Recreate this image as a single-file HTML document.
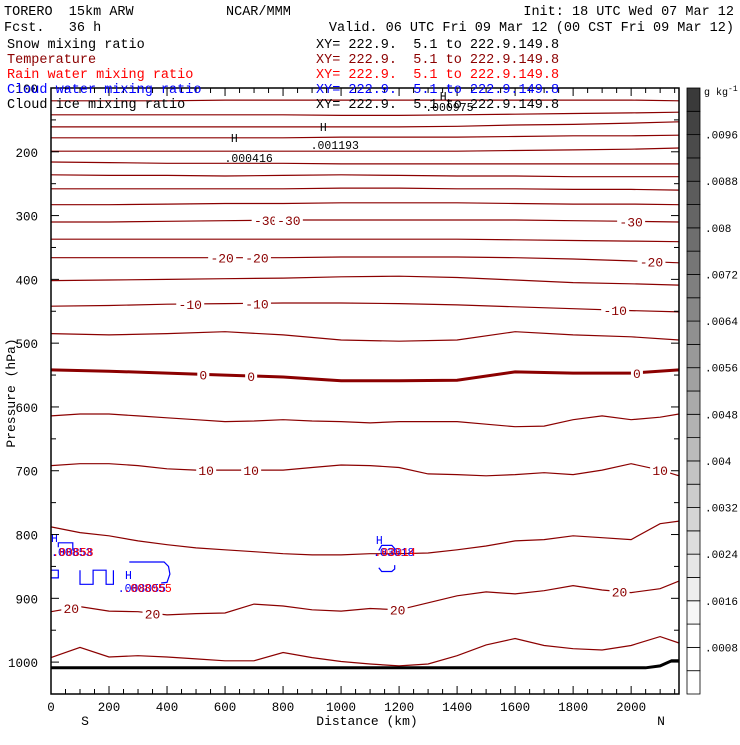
<!DOCTYPE html>
<html><head><meta charset="utf-8"><style>
body{margin:0;background:#fff;}
svg text{font-family:"Liberation Mono",monospace;white-space:pre;}
</style></head><body>
<svg id="c" width="740" height="740" xmlns="http://www.w3.org/2000/svg" xml:space="preserve">
<rect width="740" height="740" fill="#fff"/>
<g id="plot"></g>
<g id="hdr" font-size="13.5">
<text x="4" y="15" fill="#000">TORERO  15km ARW</text>
<text x="226" y="15">NCAR/MMM</text>
<text x="734" y="15" text-anchor="end">Init: 18 UTC Wed 07 Mar 12</text>
<text x="4" y="31">Fcst.   36 h</text>
<text x="734" y="31" text-anchor="end">Valid. 06 UTC Fri 09 Mar 12 (00 CST Fri 09 Mar 12)</text>
<text x="7" y="48" fill="#000">Snow mixing ratio</text>
<text x="316" y="48" fill="#000">XY= 222.9.  5.1 to 222.9.149.8</text>
<text x="7" y="63" fill="#8b0000">Temperature</text>
<text x="316" y="63" fill="#8b0000">XY= 222.9.  5.1 to 222.9.149.8</text>
<text x="7" y="78" fill="#ff0000">Rain water mixing ratio</text>
<text x="316" y="78" fill="#ff0000">XY= 222.9.  5.1 to 222.9.149.8</text>
<text x="7" y="93" fill="#0000ff">Cloud water mixing ratio</text>
<text x="316" y="93" fill="#0000ff">XY= 222.9.  5.1 to 222.9.149.8</text>
<text x="7" y="108" fill="#000">Cloud ice mixing ratio</text>
<text x="316" y="108" fill="#000">XY= 222.9.  5.1 to 222.9.149.8</text>
</g>
</svg>
<script>
const distCoarse=[0,200,400,600,800,1000,1200,1400,1600,1800,2000,2165];
const distFine=[0,100,200,300,400,500,600,700,800,900,1000,1100,1200,1300,1400,1500,1600,1700,1800,1900,2000,2100,2165];
const upperLevels=[-75,-70,-65,-60,-55,-50,-45,-40,-35,-30,-25,-20,-15,-10,-5,0];
const upperP=[
[120,120,120,119,119,119,119,119,119,119,119,120],
[142,142,142,142,142,143,143,142,141,140,139,138],
[161,161,161,161,161,161,161,160,158,157,155,153],
[178,178,178,178,178,177,177,177,176,175,175,174],
[199,199,199,199,199,199,199,199,198,197,196,194],
[216,217,218,218,218,219,219,219,219,219,219,219],
[236,237,237,238,237,236,237,238,238,239,239,239],
[258,258,258,258,258,257,257,258,258,259,259,260],
[283,283,282,281,281,280,280,280,281,282,282,283],
[310,310,309,308,307,307,307,307,307,308,309,310],
[337,337,337,337,337,337,337,337,338,339,340,341],
[366,366,366,366,366,365,365,365,366,368,371,374],
[402,401,400,399,398,396,395,397,401,405,407,409],
[442,441,439,438,437,437,438,440,443,446,449,451],
[485,487,485,482,487,495,497,495,482,487,490,495],
[542,544,547,550,553,559,559,558,545,547,547,542]];
const lowerLevels=[5,10,15,20,25];
const lowerP=[
[614,611,611,614,617,620,623,622,620,622,623,625,623,623,623,627,631,630,620,614,620,616,611],
[692,689,689,692,697,699,699,699,699,695,691,692,695,705,706,708,706,703,706,699,689,699,708],
[788,797,802,810,816,821,824,827,830,832,832,830,830,829,824,818,810,808,802,805,808,783,779],
[921,913,920,921,926,924,923,909,912,918,920,916,918,907,896,890,893,888,880,887,891,885,873],
[993,977,992,990,992,995,998,998,985,993,999,1003,1006,1003,990,973,963,974,979,981,974,960,970]];
const terrainDist=[0,2050,2100,2140,2165];
const terrainP=[1009,1009,1006,998,998];
const tempLabels=[[-30,740],[-30,820],[-30,2000],[-20,590],[-20,710],[-20,2070],[-10,480],[-10,710],[-10,1945],[0,525],[0,690],[0,2020],[10,535],[10,690],[10,2100],[20,70],[20,350],[20,1195],[20,1960]];
const colorTicks=[".0008",".0016",".0024",".0032",".004",".0048",".0056",".0064",".0072",".008",".0088",".0096"];
const xTickLabels=[0,200,400,600,800,1000,1200,1400,1600,1800,2000];
const yTickLabels=[100,200,300,400,500,600,700,800,900,1000];

const X0=51,X1=679,Y0=88,Y1=694,DMAX=2165,PTOP=100,PBOT=1050;
const sx=d=>X0+(d/DMAX)*(X1-X0);
const sy=p=>Y0+(p-PTOP)/(PBOT-PTOP)*(Y1-Y0);
const NS="http://www.w3.org/2000/svg";
const plot=document.getElementById('plot');
function mk(t,a,parent){const e=document.createElementNS(NS,t);for(const k in a)e.setAttribute(k,a[k]);(parent||plot).appendChild(e);return e;}
function interp(ds,ps,d){for(let i=0;i<ds.length-1;i++){if(d>=ds[i]&&d<=ds[i+1]){const t=(d-ds[i])/(ds[i+1]-ds[i]);return ps[i]+t*(ps[i+1]-ps[i]);}}return ps[ps.length-1];}
function pts(ds,ps){return ds.map((d,i)=>sx(d).toFixed(1)+','+sy(ps[i]).toFixed(1)).join(' ');}

mk('rect',{x:X0,y:Y0,width:X1-X0,height:Y1-Y0,fill:'#fff'});
upperLevels.forEach((lv,i)=>{
 const l=mk('polyline',{points:pts(distCoarse,upperP[i]),fill:'none',stroke:'#8b0000','stroke-width':lv===0?3:1.2});
 
 
});
lowerLevels.forEach((lv,i)=>{
 const l=mk('polyline',{points:pts(distFine,lowerP[i]),fill:'none',stroke:'#8b0000','stroke-width':1.2});
 
 
});
const tr=mk('polyline',{points:pts(terrainDist,terrainP),fill:'none',stroke:'#000','stroke-width':3});


tempLabels.forEach(([lv,d])=>{
 let p;const ui=upperLevels.indexOf(lv);
 if(ui>=0)p=interp(distCoarse,upperP[ui],d);else p=interp(distFine,lowerP[lowerLevels.indexOf(lv)],d);
 const txt=String(lv);const w=txt.length*8+4;
 mk('rect',{x:sx(d)-w/2,y:sy(p)-6,width:w,height:12,fill:'#fff'});
 const t=mk('text',{x:sx(d),y:sy(p)+5,'text-anchor':'middle','font-size':13,fill:'#8b0000'});
 t.textContent=txt;
 
 
});
const blobs=[
 [[25,820],[25,813],[75,813],[75,825]],
 [[0,868],[25,868],[25,856],[0,856]],
 [[100,856],[100,878],[145,878],[145,856],[190,856],[190,878],[215,878],[215,856]],
 [[270,843],[390,843],[405,850],[410,862],[400,875],[380,876]],
 [[1130,825],[1140,817],[1175,817],[1185,822],[1185,828]],
 [[1185,848],[1185,854],[1175,858],[1140,858],[1130,852]]];
blobs.forEach(b=>{
 const e=mk('polyline',{points:pts(b.map(q=>q[0]),b.map(q=>q[1])),fill:'none',stroke:'#0000ff','stroke-width':1.2});
 
 
});
const hl=[[620,142,'#000','H'],[598,162,'#000','.000416'],[927,131,'#000','H'],[895,149,'#000','.001193'],[1340,100,'#000','H'],[1290,111,'#000','.000975'],
[0,542,'#0000ff','H'],[0,556,'#0000ff','.00853'],[4,556,'#ff0000','.00858'],[255,579,'#0000ff','H'],[230,592,'#0000ff','.008055'],[250,592,'#ff0000','.008055'],
[1120,544,'#0000ff','H'],[1110,556,'#0000ff','.03018'],[1115,556,'#ff0000','.03014']];
hl.forEach(([d,yy,c,s])=>{
 const t=mk('text',{x:sx(d),y:yy,'font-size':11.5,fill:c});
 t.textContent=s;
 
 
});
mk('rect',{x:X0,y:Y0,width:X1-X0,height:Y1-Y0,fill:'none',stroke:'#000','stroke-width':1.5});
for(let d=0;d<=DMAX;d+=50){const big=d%200===0;const L=big?8:5;
 mk('line',{x1:sx(d),x2:sx(d),y1:Y1,y2:Y1-L,stroke:'#000'});
 mk('line',{x1:sx(d),x2:sx(d),y1:Y0,y2:Y0+L,stroke:'#000'});}
xTickLabels.forEach(v=>{const t=mk('text',{x:sx(v),y:711,'text-anchor':'middle','font-size':12.5});t.textContent=v;
 });
for(let p=PTOP;p<=PBOT;p+=50){const L=p%100===0?8:5;
 mk('line',{x1:X0,x2:X0+L,y1:sy(p),y2:sy(p),stroke:'#000'});
 mk('line',{x1:X1,x2:X1-L,y1:sy(p),y2:sy(p),stroke:'#000'});}
yTickLabels.forEach(v=>{const t=mk('text',{x:38,y:sy(v)+5,'text-anchor':'end','font-size':12.5});t.textContent=v;
 });
let t=mk('text',{x:367,y:725,'text-anchor':'middle','font-size':13});t.textContent='Distance (km)';

t=mk('text',{x:85,y:725,'text-anchor':'middle','font-size':13});t.textContent='S';

t=mk('text',{x:661,y:725,'text-anchor':'middle','font-size':13});t.textContent='N';

t=mk('text',{x:0,y:0,'text-anchor':'middle','font-size':13,transform:'translate(15,393) rotate(-90)'});t.textContent='Pressure (hPa)';

const NSEG=26,CB0=88,CB1=694,segH=(CB1-CB0)/NSEG;
for(let i=0;i<NSEG;i++){let g=i<3?255:Math.round(247-(i-3)*(247-58)/22);
 const r=mk('rect',{x:687,y:CB1-(i+1)*segH,width:13,height:segH,fill:`rgb(${g},${g},${g})`,stroke:'#000','stroke-width':0.8});
 }
colorTicks.forEach((s,i)=>{const tt=mk('text',{x:705,y:CB1-(i+1)*2*segH+4,'font-size':11});tt.textContent=s;
 });
t=mk('text',{x:704,y:95,'font-size':10});t.innerHTML='g kg<tspan dy="-4" font-size="8">-1</tspan>';

document.getElementById('c').appendChild(document.getElementById('hdr'));
</script>
</body></html>
